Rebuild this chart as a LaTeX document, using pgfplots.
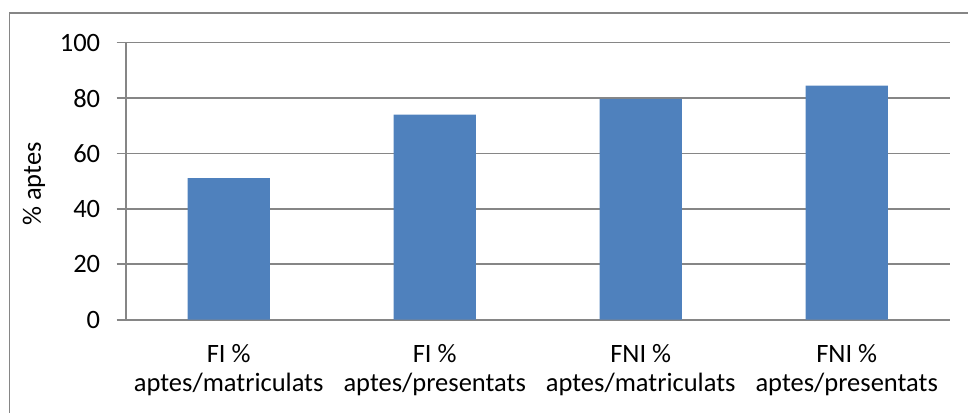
\documentclass[border=0pt]{standalone}
\usepackage{pgfplots}
\pgfplotsset{compat=1.18}
\usepackage{fontspec}
\setmainfont{Carlito}
\definecolor{barblue}{HTML}{4F81BD}
\definecolor{gridgray}{HTML}{868686}
\begin{document}
\begin{tikzpicture}[x=1pt,y=1pt]
  \path[use as bounding box] (0,0) rectangle (968,412);
  \draw[gridgray, line width=1.6pt] (9.5,-5) -- (9.5,398.8) -- (975,398.8);
  \begin{axis}[
    at={(125.7pt,92.3pt)}, anchor=south west,
    scale only axis,
    width=824pt, height=277pt,
    xmin=-0.5, xmax=3.5,
    ymin=0, ymax=100,
    ytick={0,20,40,60,80,100},
    xtick={0,1,2,3},
    xticklabels={FI \%\\aptes/matriculats, FI \%\\aptes/presentats,
      FNI \%\\aptes/matriculats, FNI \%\\aptes/presentats},
    major x tick style={draw=none},
    extra x ticks={-0.5,0.5,1.5,2.5,3.5},
    extra x tick labels={},
    extra x tick style={major tick length=9pt, tick style={gridgray, line width=1.6pt}},
    tick align=outside,
    major tick length=9pt,
    tick style={gridgray, line width=1.6pt},
    axis x line*=bottom, axis y line*=left,
    axis line style={gridgray, line width=1.6pt, -},
    ymajorgrids,
    major grid style={gridgray, line width=1.6pt},
    /pgf/number format/assume math mode=true,
    tick label style={font=\fontsize{26.5}{29}\selectfont, black},
    xticklabel style={align=center, yshift=-12pt},
    yticklabel style={xshift=-13pt},
    ylabel={\% aptes},
    ylabel style={font=\fontsize{26.5}{29}\selectfont,
      at={(axis description cs:-0.1113,0.49)}, anchor=center},
    ybar, bar width=0.4,
  ]
    \addplot[fill=barblue, draw=none] coordinates {
      (0,51.1) (1,74.0) (2,79.7) (3,84.5)
    };
  \end{axis}
\end{tikzpicture}
\end{document}
